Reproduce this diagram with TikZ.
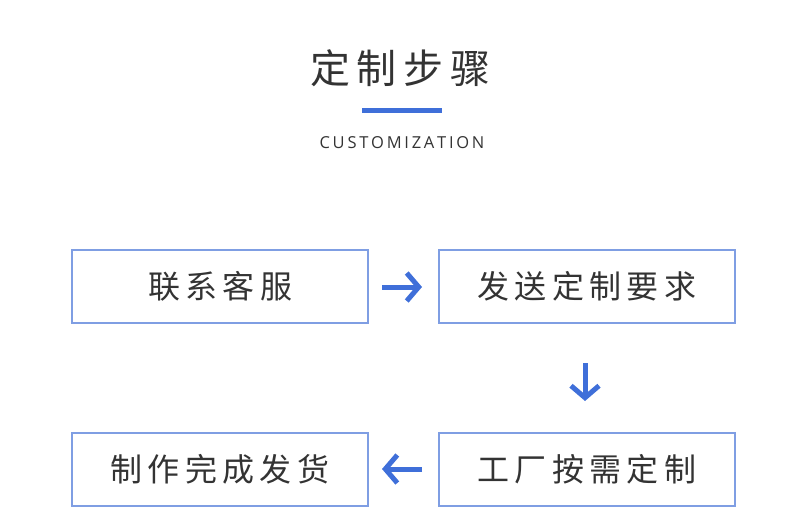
\documentclass[tikz,border=0pt]{standalone}
\usepackage{fontspec}
\newfontfamily\cjk{Noto Sans CJK SC}
\setmainfont{Open Sans}
\usetikzlibrary{positioning,arrows.meta}
\definecolor{stepblue}{HTML}{3F6FD9}
\definecolor{boxline}{HTML}{7F9EE3}
\definecolor{textgray}{HTML}{333333}
\tikzset{x=1pt,y=-1pt,
  step box/.style={draw=boxline,line width=1.2pt,minimum width=296pt,minimum height=73pt,inner sep=0pt,font=\cjk\fontsize{32}{32}\selectfont,text=textgray},
  step arrow/.style={draw=stepblue,line width=5pt,-{Straight Barb[length=12pt,width=28pt,line width=5pt]}}}
\begin{document}
\begin{tikzpicture}
  \useasboundingbox (0,0) rectangle (800,532);
  \node[font=\cjk\fontsize{40}{40}\selectfont,text=textgray] (title) at (400,68) {定\,制\,步\,骤};
  \fill[stepblue] (362,108) rectangle (442,113);
  \node[font=\fontsize{16.5}{16.5}\selectfont,text=textgray] (sub) at (402,143) {C\,U\,S\,T\,O\,M\,I\,Z\,A\,T\,I\,O\,N};

  \node[step box] (s1) at (220,286.5) {联\,系\,客\,服};
  \node[step box] (s2) at (587,286.5) {发\,送\,定\,制\,要\,求};
  \node[step box] (s3) at (587,469.5) {工\,厂\,按\,需\,定\,制};
  \node[step box] (s4) at (220,469.5) {制\,作\,完\,成\,发\,货};

  \coordinate (a1) at (382,287); \coordinate (b1) at (422,287);
  \coordinate (a2) at (585,363); \coordinate (b2) at (585,401);
  \coordinate (a3) at (422,469); \coordinate (b3) at (382,469);
  \draw[step arrow] (a1) -- (b1);
  \draw[step arrow] (a2) -- (b2);
  \draw[step arrow] (a3) -- (b3);
\end{tikzpicture}
\end{document}
